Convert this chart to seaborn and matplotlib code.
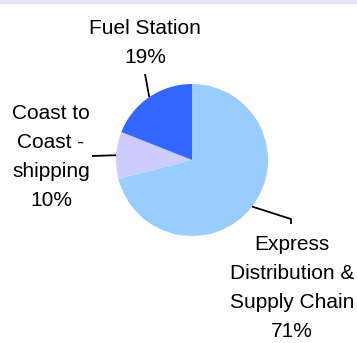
import numpy as np
import matplotlib
matplotlib.use("Agg")
import matplotlib.pyplot as plt
import seaborn as sns

# ---- data ----
categories = ["Express\nDistribution &\nSupply Chain", "Coast to\nCoast -\nshipping", "Fuel Station"]
shares = [71, 10, 19]
colors = ["#99ccff", "#ccccff", "#3366ff"]

sns.set_theme(style="white")
plt.rcParams["font.family"] = ["Liberation Sans", "DejaVu Sans"]

W, H = 357, 343
fig = plt.figure(figsize=(W / 100, H / 100), dpi=100)
fig.patch.set_facecolor("white")
ax = fig.add_axes([0, 0, 1, 1])

center = (192, H - 160)
radius = 76
wedges, _ = ax.pie(shares, colors=colors, startangle=90, counterclock=False,
                   center=center, radius=radius, frame=False,
                   wedgeprops=dict(linewidth=0))
ax.set_xlim(0, W)
ax.set_ylim(0, H)
ax.set_aspect("equal")
ax.axis("off")

# layout: text centre and leader elbow points (pixel coords, y from top)
layout = [
    dict(text=(292, 288), path=[(291, 219), (291, 224)]),
    dict(text=(51, 157), path=[(92, 156)]),
    dict(text=(145, 43), path=[(145, 74)]),
]

for w, cat, val, lay in zip(wedges, categories, shares, layout):
    mid = np.deg2rad((w.theta1 + w.theta2) / 2)
    ex = center[0] + radius * np.cos(mid)
    ey = center[1] + radius * np.sin(mid)
    xs = [ex] + [p[0] for p in lay["path"]]
    ys = [ey] + [H - p[1] for p in lay["path"]]
    ax.plot(xs, ys, color="black", lw=1.3, solid_capstyle="butt")
    ax.text(lay["text"][0], H - lay["text"][1], f"{cat}\n{val}%", ha="center",
            va="center", multialignment="center", fontsize=15, color="black",
            linespacing=1.68)

# thin lavender band at top
fig.patches.append(plt.Rectangle((0, 1 - 3 / H), 1, 3 / H, transform=fig.transFigure,
                                 color="#e3e3f7", zorder=0))

fig.savefig("out.png", dpi=100)
